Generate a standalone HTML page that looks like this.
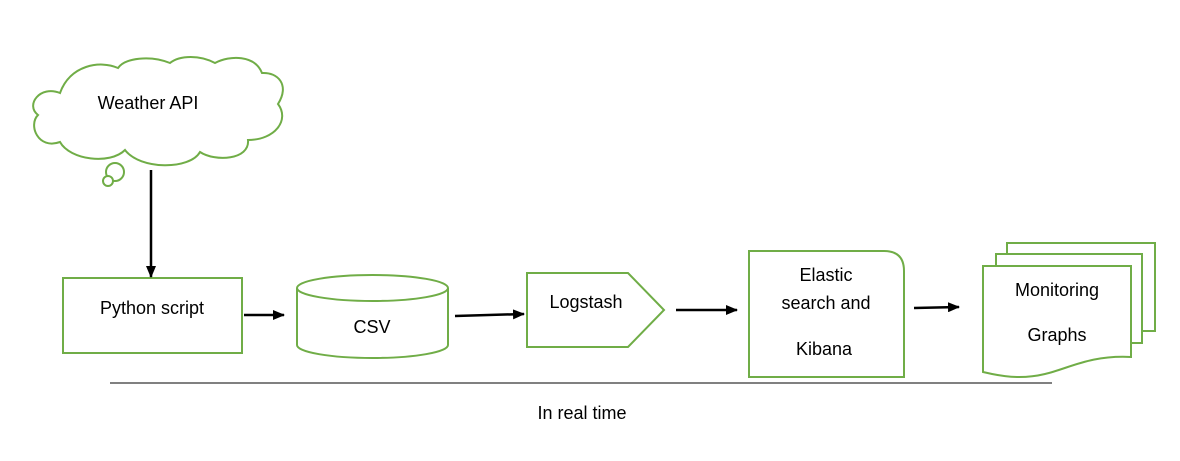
<!DOCTYPE html>
<html><head><meta charset="utf-8"><style>
html,body{margin:0;padding:0;background:#fff;}
svg text{font-family:"Liberation Sans",sans-serif;font-size:18px;fill:#000;}
</style></head><body>
<svg width="1180" height="456" viewBox="0 0 1180 456" xmlns="http://www.w3.org/2000/svg">
<defs><marker id="a" markerWidth="12" markerHeight="10" refX="11" refY="5" orient="auto" markerUnits="userSpaceOnUse"><path d="M0,0 L12,5 L0,10 z" fill="#000"/></marker></defs>
<g fill="#fff" stroke="#70ad47" stroke-width="2">
<path d="M60,93 C40,85 25,105 38,115 C28,125 38,150 60,142 C70,160 110,165 125,150 C140,170 190,170 200,152 C215,162 250,160 248,140 C275,140 290,120 278,104 C290,85 278,72 262,73 C255,55 230,55 215,63 C200,55 180,55 170,63 C150,55 125,58 118,68 C100,60 70,65 60,93 Z"/>
<circle cx="115" cy="172" r="9"/>
<circle cx="108" cy="181" r="5"/>
<rect x="63" y="278" width="179" height="75"/>
<path d="M297,288 L297,345 A75.5,13 0 0 0 448,345 L448,288"/>
<ellipse cx="372.5" cy="288" rx="75.5" ry="13"/>
<path d="M527,273 L628,273 L664,310 L628,347 L527,347 Z"/>
<path d="M749,251 L884,251 Q904,251 904,271 L904,377 L749,377 Z"/>
<rect x="1007" y="243" width="148" height="88"/>
<rect x="996" y="254" width="146" height="89"/>
<path d="M983,266 L1131,266 L1131,357 C1090,355 1070,368 1045,374 C1020,380 1000,376 983,372 Z"/>
</g>
<g stroke="#000" stroke-width="2.5" marker-end="url(#a)">
<line x1="151" y1="170" x2="151" y2="277"/>
<line x1="244" y1="315" x2="284" y2="315"/>
<line x1="455" y1="316" x2="524" y2="314"/>
<line x1="676" y1="310" x2="737" y2="310"/>
<line x1="914" y1="308" x2="959" y2="307"/>
</g>
<line x1="110" y1="383" x2="1052" y2="383" stroke="#000" stroke-width="1"/>
<text x="148" y="109" text-anchor="middle">Weather API</text>
<text x="152" y="314" text-anchor="middle">Python script</text>
<text x="372" y="333" text-anchor="middle">CSV</text>
<text x="586" y="308" text-anchor="middle">Logstash</text>
<text x="826" y="281" text-anchor="middle">Elastic</text>
<text x="826" y="309" text-anchor="middle">search and</text>
<text x="824" y="355" text-anchor="middle">Kibana</text>
<text x="1057" y="296" text-anchor="middle">Monitoring</text>
<text x="1057" y="341" text-anchor="middle">Graphs</text>
<text x="582" y="419" text-anchor="middle">In real time</text>
</svg>
</body></html>
